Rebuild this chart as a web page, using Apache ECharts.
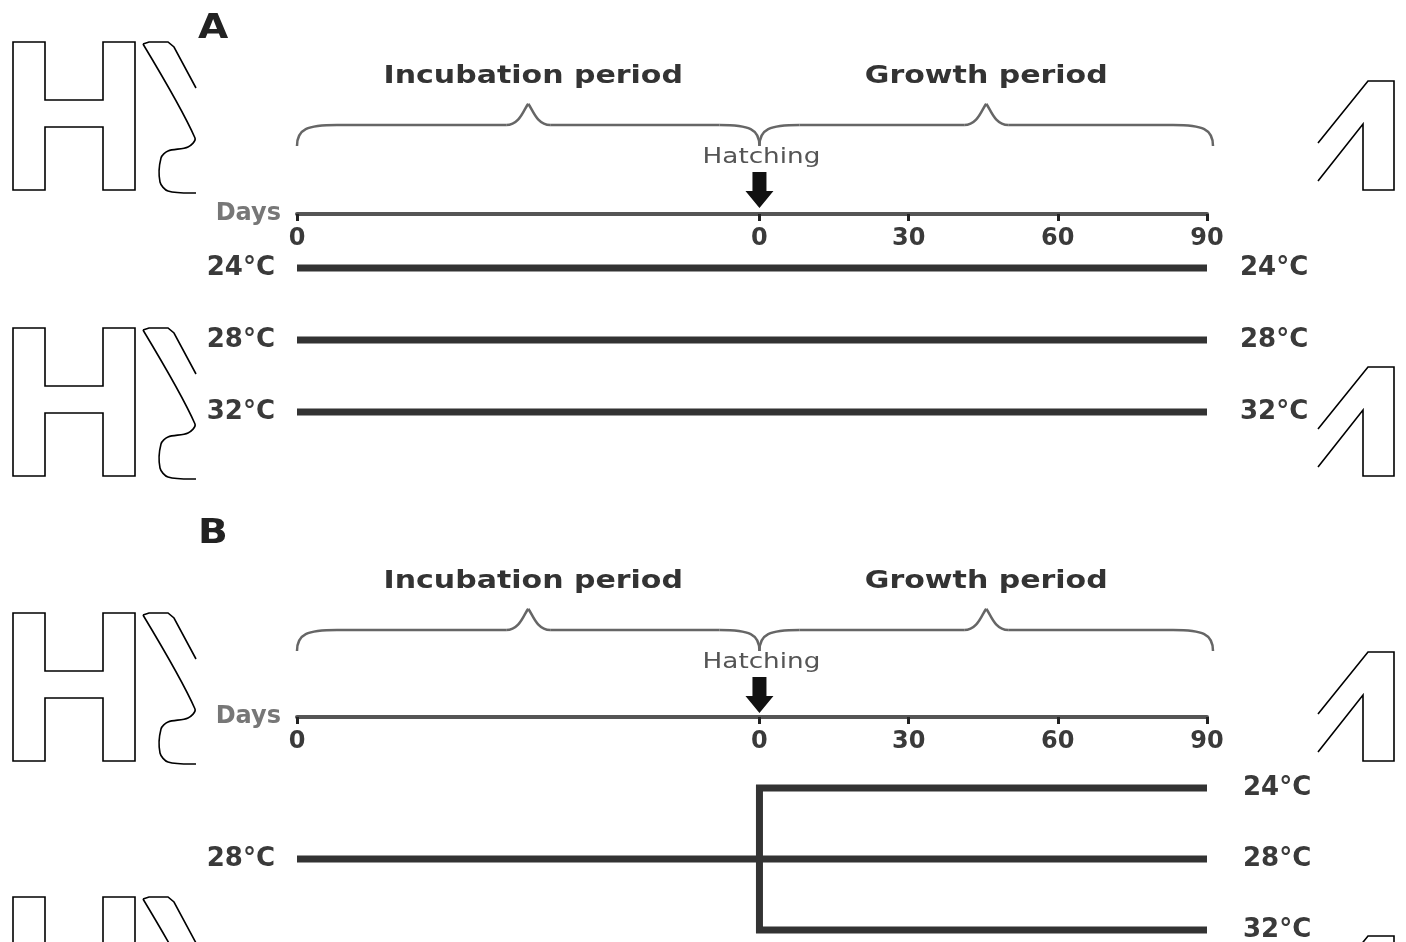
<!DOCTYPE html>
<html>
<head>
<meta charset="utf-8">
<title>Incubation / growth temperature design</title>
<script src="https://cdn.jsdelivr.net/npm/echarts@6/dist/echarts.min.js"></script>
<style>
    html, body { margin: 0; padding: 0; background: #fff; }
    #main { width: 1406px; height: 942px; }
</style>
</head>
<body>
<div id="main"></div>
<script>
// days axis: first tick is the start of incubation, second is hatching (day 0 of growth)
const dayTicks = [-93, 0, 30, 60, 90];
const dayTickLabels = ["0", "0", "30", "60", "90"];
const incubationStart = -93;
const hatchDay = 0;
const growthEnd = 90;

// temperature rows (°C)
const tempsA = [24, 28, 32];
const leftTempsB = [28];
const rightTempsB = [24, 28, 32];

// panel A: constant temperature through incubation and growth
const lineA24 = [[-93, 24], [90, 24]];
const lineA28 = [[-93, 28], [90, 28]];
const lineA32 = [[-93, 32], [90, 32]];

// panel B: all incubated at 28, split after hatching
const lineB28 = [[-93, 28], [90, 28]];
const lineBSplit = [[90, 24], [0, 24], [0, 32], [90, 32]];

const FONT = "DejaVu Sans";
const DARK = "#333";

let chart = echarts.init(document.getElementById("main"));

const tempFormatter = v => v + "°C";

const daysAxis = gridIndex => ({
    gridIndex: gridIndex,
    type: "value",
    min: incubationStart,
    max: growthEnd,
    position: "top",
    name: "Days",
    nameLocation: "start",
    nameGap: 16,
    nameTextStyle: { fontFamily: FONT, fontSize: 24, fontWeight: "bold", color: "#777" },
    axisLine: { lineStyle: { color: "#555", width: 4 } },
    axisTick: {
        inside: true,
        length: 7,
        customValues: dayTicks,
        lineStyle: { color: "#222", width: 3 }
    },
    axisLabel: {
        inside: true,
        margin: 13,
        customValues: dayTicks,
        formatter: v => dayTickLabels[dayTicks.indexOf(v)],
        fontFamily: FONT,
        fontWeight: "bold",
        fontSize: 24,
        color: "#3a3a3a"
    },
    splitLine: { show: false }
});

const tempAxis = (gridIndex, position, values, min, max, margin) => ({
    gridIndex: gridIndex,
    type: "value",
    position: position,
    min: min,
    max: max,
    interval: 1,
    inverse: true,
    axisLine: { show: false },
    axisTick: { show: false },
    splitLine: { show: false },
    axisLabel: {
        customValues: values,
        formatter: tempFormatter,
        margin: margin,
        fontFamily: FONT,
        fontWeight: "bold",
        fontSize: 26,
        color: "#3a3a3a"
    }
});

const lineSeries = (data, yAxisIndex, xAxisIndex) => ({
    type: "line",
    xAxisIndex: xAxisIndex,
    yAxisIndex: yAxisIndex,
    data: data,
    symbol: "none",
    silent: true,
    clip: false,
    lineStyle: { color: DARK, width: 7, join: "miter" }
});

const option = {
    backgroundColor: "#fff",
    animation: false,
    grid: [
        { left: 297, right: 199, top: 214, height: 234, outerBoundsMode: "none", containLabel: false },
        { left: 297, right: 199, top: 717, height: 220.1, outerBoundsMode: "none", containLabel: false }
    ],
    xAxis: [daysAxis(0), daysAxis(1)],
    yAxis: [
        tempAxis(0, "left", tempsA, 21, 34, 22),
        tempAxis(0, "right", tempsA, 21, 34, 33),
        tempAxis(1, "left", leftTempsB, 20, 32.4, 22),
        tempAxis(1, "right", rightTempsB, 20, 32.4, 36)
    ],
    series: [
        lineSeries(lineA24, 0, 0),
        lineSeries(lineA28, 0, 0),
        lineSeries(lineA32, 0, 0),
        lineSeries(lineB28, 2, 1),
        lineSeries(lineBSplit, 2, 1)
    ]
};

chart.setOption(option);

// curly brace from x1 to x2 built from lines and bezier curves
const brace = (x1, x2, yEnd, yBar, yTip) => {
    const mid = (x1 + x2) / 2;
    const st = { fill: "none", stroke: "#666", lineWidth: 2.5 };
    const curve = (a, b, c1, c2) => ({
        type: "bezierCurve",
        shape: { x1: a[0], y1: a[1], x2: b[0], y2: b[1], cpx1: c1[0], cpy1: c1[1], cpx2: c2[0], cpy2: c2[1] },
        style: st
    });
    const line = (a, b) => ({
        type: "line",
        shape: { x1: a[0], y1: a[1], x2: b[0], y2: b[1] },
        style: st
    });
    return [
        curve([x1, yEnd], [x1 + 40, yBar], [x1, yBar + 4], [x1 + 10, yBar]),
        line([x1 + 40, yBar], [mid - 22, yBar]),
        curve([mid - 22, yBar], [mid, yTip], [mid - 8, yBar], [mid - 4, yTip + 4]),
        curve([mid, yTip], [mid + 22, yBar], [mid + 4, yTip + 4], [mid + 8, yBar]),
        line([mid + 22, yBar], [x2 - 40, yBar]),
        curve([x2 - 40, yBar], [x2, yEnd], [x2 - 10, yBar], [x2, yBar + 4])
    ];
};

const panelDecor = (xIdx, dy, letter) => {
    const xs = chart.convertToPixel({ xAxisIndex: xIdx }, incubationStart);
    const xh = chart.convertToPixel({ xAxisIndex: xIdx }, hatchDay);
    const xe = chart.convertToPixel({ xAxisIndex: xIdx }, growthEnd);
    const titleStyle = {
        fontFamily: FONT, fontWeight: "bold", fontSize: 24, fill: DARK,
        align: "center", verticalAlign: "middle"
    };
    return [
        {
            type: "text", x: 198, y: 29 + dy, scaleX: 1.15,
            style: {
                text: letter, fontFamily: FONT, fontWeight: "bold", fontSize: 34, fill: "#222",
                verticalAlign: "middle"
            }
        },
        {
            type: "text", x: (xs + xh) / 2 + 5, y: 77 + dy, scaleX: 1.25,
            style: Object.assign({ text: "Incubation period" }, titleStyle)
        },
        {
            type: "text", x: (xh + xe) / 2 + 3, y: 77 + dy, scaleX: 1.25,
            style: Object.assign({ text: "Growth period" }, titleStyle)
        },
        {
            type: "text", x: xh + 2, y: 158 + dy, scaleX: 1.25,
            style: {
                text: "Hatching", fontFamily: FONT, fontSize: 21, fill: "#555",
                align: "center", verticalAlign: "middle"
            }
        },
        {
            type: "polygon",
            shape: {
                points: [
                    [xh - 7, 172 + dy], [xh + 7, 172 + dy], [xh + 7, 191 + dy], [xh + 14, 191 + dy],
                    [xh, 208 + dy], [xh - 14, 191 + dy], [xh - 7, 191 + dy]
                ]
            },
            style: { fill: "#111" }
        }
    ].concat(
        brace(xs, xh, 146 + dy, 125 + dy, 104 + dy),
        brace(xh, xe + 6, 146 + dy, 125 + dy, 104 + dy)
    );
};

// outlined glyph shapes along the left and right margins of the scan
const marginGlyphs = dy => {
    const st = { fill: "none", stroke: "#000", lineWidth: 1.6 };
    const H = [[13, 42], [45, 42], [45, 100], [103, 100], [103, 42], [135, 42], [135, 190],
        [103, 190], [103, 127], [45, 127], [45, 190], [13, 190]];
    const hook = [[143, 44], [195, 138], [188, 147], [168, 151], [161, 158], [160, 182], [168, 191], [196, 193]];
    const hookTop = [[143, 44], [149, 42], [168, 42], [174, 47], [196, 88]];
    const one = [[1318, 143], [1368, 81], [1394, 81], [1394, 190], [1363, 190], [1363, 124], [1318, 181]];
    const shift = pts => pts.map(p => [p[0], p[1] + dy]);
    return [
        { type: "polygon", shape: { points: shift(H) }, style: st },
        { type: "polyline", shape: { points: shift(hook), smooth: 0.3 }, style: st },
        { type: "polyline", shape: { points: shift(hookTop) }, style: st },
        { type: "polyline", shape: { points: shift(one) }, style: st }
    ];
};

let decor = [].concat(
    panelDecor(0, 0, "A"),
    panelDecor(1, 505, "B"),
    marginGlyphs(0),
    marginGlyphs(286),
    marginGlyphs(571),
    marginGlyphs(855)
);

chart.setOption({ graphic: decor });
</script>
</body>
</html>
